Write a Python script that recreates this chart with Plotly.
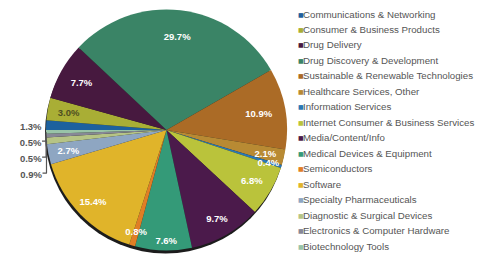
import plotly.graph_objects as go

labels = ["Communications & Networking", "Consumer & Business Products", "Drug Delivery",
          "Drug Discovery & Development", "Sustainable & Renewable Technologies",
          "Healthcare Services, Other", "Information Services",
          "Internet Consumer & Business Services", "Media/Content/Info",
          "Medical Devices & Equipment", "Semiconductors", "Software",
          "Specialty Pharmaceuticals", "Diagnostic & Surgical Devices",
          "Electronics & Computer Hardware", "Biotechnology Tools"]
values = [1.3, 3.0, 7.7, 29.7, 10.9, 2.1, 0.4, 6.8, 9.7, 7.6, 0.8, 15.4, 2.7, 0.9, 0.5, 0.5]
colors = ["#1d619e", "#a9ae35", "#47193f", "#3a8466", "#ab6b26", "#b88a33", "#2a78b5",
          "#bac33b", "#4b1a4b", "#349a78", "#e07e25", "#e0b42a", "#8ea6c2", "#b6c485",
          "#878896", "#98c4a8"]
text_colors = ["#555555", "#4e4e22", "white", "white", "white", "white", "white", "white",
               "white", "white", "white", "white", "white", "#555555", "#555555", "#555555"]
# label placement group for each slice
label_group = ["out", "small", "mid", "mid", "mid", "small", "small", "mid",
               "deep", "edge", "small", "deep", "small", "out", "out", "out"]

W, H = 477, 255
x0, x1, ytop, ybot = 46, 287, 8, 252
cx, cy = (x0 + x1) / 2, (ytop + ybot) / 2
R = (x1 - x0) / 2


def dom(scale=1.0, dx=0.0, dy=0.0):
    r = R * scale
    return dict(x=[max(0.0, (cx - r + dx) / W), min(1.0, (cx + r + dx) / W)],
                y=[max(0.0, 1 - (cy + r + dy) / H), min(1.0, 1 - (cy - r + dy) / H)])


texts = [f"{v:.1f}%" for v in values]
font = dict(family="Liberation Sans, Arial", size=9.5, weight="bold")

fig = go.Figure()
# shadow under the pie
fig.add_trace(go.Pie(values=[1], marker=dict(colors=["#1c1c1c"]), textinfo="none",
                     hoverinfo="skip", showlegend=False, sort=False, domain=dom(1.0, -1, 3)))
# main pie
fig.add_trace(go.Pie(labels=labels, values=values, marker=dict(colors=colors, line=dict(width=0)),
                     sort=False, direction="clockwise", rotation=270, textinfo="none",
                     showlegend=False, domain=dom()))

# transparent label rings (hole / scale set the radial position of the texts)
groups = {"mid": (0.56, 1.0), "deep": (0.70, 1.0), "edge": (0.84, 1.0),
          "small": (0.60, 0.9), "out": (0.0, 1.0)}
pad = "<span style='font-size:14px'> </span>"
for g, (hole, scale) in groups.items():
    t = [(pad + tx if g == "out" else tx) if lg == g else "" for tx, lg in zip(texts, label_group)]
    pos = [("outside" if g == "out" else "inside") if lg == g else "none" for lg in label_group]
    fig.add_trace(go.Pie(labels=labels, values=values, hole=hole,
                         marker=dict(colors=["rgba(0,0,0,0)"] * len(values), line=dict(width=0)),
                         sort=False, direction="clockwise", rotation=270,
                         text=t, textinfo="text", textposition=pos,
                         insidetextorientation="horizontal",
                         textfont=dict(**font, color=text_colors),
                         outsidetextfont=dict(**font, color="#555555"),
                         hoverinfo="skip", showlegend=False, domain=dom(scale)))

# legend drawn as annotations
leg_top, leg_step = 14, 15.47
annotations = []
for i, (lab, col) in enumerate(zip(labels, colors)):
    yp = 1 - (leg_top + i * leg_step) / H
    annotations.append(dict(x=296 / W, y=yp, xref="paper", yref="paper", text="■",
                            showarrow=False, xanchor="left", yanchor="middle",
                            font=dict(family="DejaVu Sans", size=6, color=col)))
    annotations.append(dict(x=301 / W, y=yp, xref="paper", yref="paper", text=lab,
                            showarrow=False, xanchor="left", yanchor="middle",
                            font=dict(family="Liberation Sans, Arial", size=9.7, color="#555555")))

fig.update_layout(width=W, height=H, margin=dict(l=0, r=0, t=0, b=0),
                  paper_bgcolor="white", plot_bgcolor="white",
                  uniformtext=dict(mode="show", minsize=9.5),
                  annotations=annotations)
fig.write_html("out.html", config={"displayModeBar": False},
               post_script="document.body.style.margin='0';")
